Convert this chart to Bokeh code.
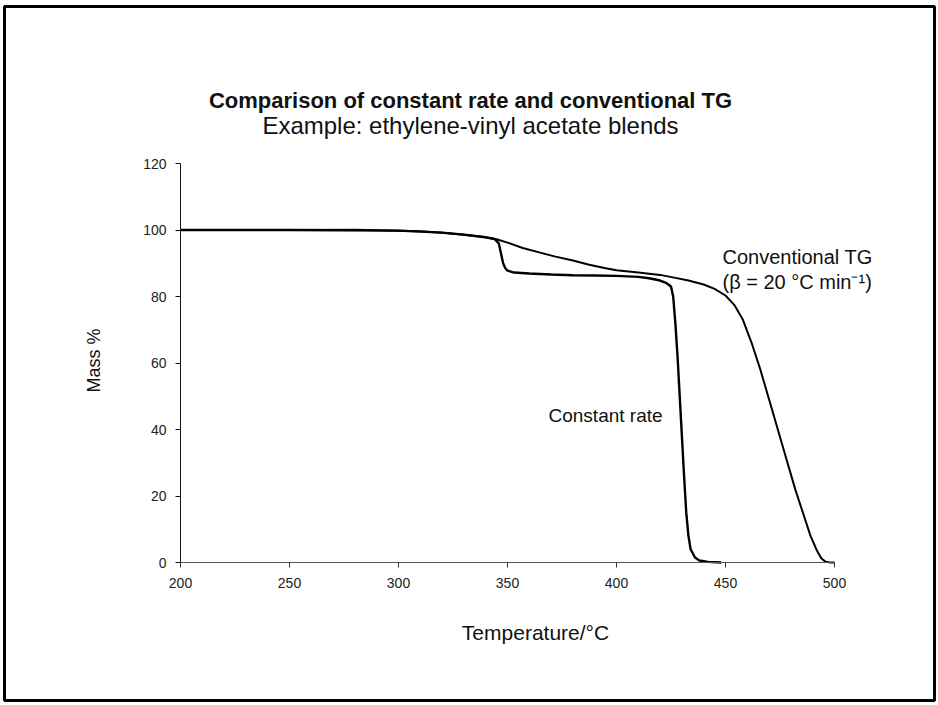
import math
from bokeh.plotting import figure
from bokeh.models import Range1d, Label, FixedTicker, BoxAnnotation
from bokeh.embed import file_html
from bokeh.resources import INLINE

# ---- data ----
conv_T = [200, 220, 250, 280, 300, 310, 320, 330, 340, 345, 350, 357, 365, 372, 380,
          387, 395, 400, 410, 420, 427, 433, 440, 445, 450, 454, 458, 462, 466, 470,
          474, 478, 482, 486, 489, 492, 494, 496, 498, 500]
conv_M = [100, 100, 100, 100.1, 99.8, 99.6, 99.2, 98.6, 97.8, 97.2, 96.2, 94.6, 93.2,
          92.0, 90.8, 89.6, 88.5, 87.9, 87.2, 86.5, 85.6, 84.8, 83.6, 82.3, 80.3, 77.5,
          73.0, 66.0, 58.0, 49.0, 40.0, 31.0, 22.0, 14.0, 8.0, 3.5, 1.2, 0.2, 0.0, 0.0]

cr_T = [200, 250, 300, 320, 330, 340, 344, 346, 347, 348, 349, 350, 353, 360, 370, 380,
        390, 400, 410, 415, 420, 423, 425, 426, 427, 428, 429, 430, 431, 432, 433, 434,
        436, 438, 442, 448]
cr_M = [100, 100, 99.8, 99.2, 98.6, 97.8, 97.3, 96.0, 93.0, 90.0, 88.5, 87.8, 87.2, 86.9,
        86.6, 86.4, 86.3, 86.2, 85.9, 85.5, 84.8, 84.0, 83.0, 80.0, 72.0, 62.0, 50.0,
        38.0, 26.0, 15.0, 8.0, 4.0, 1.5, 0.6, 0.2, 0.0]

x_ticks = [200, 250, 300, 350, 400, 450, 500]
y_ticks = [0, 20, 40, 60, 80, 100, 120]

title_text = "Comparison of constant rate and conventional TG"
subtitle_text = "Example: ethylene-vinyl acetate blends"
conv_label_1 = "Conventional TG"
conv_label_2 = "(\u03b2 = 20 \u00b0C min\u207b\u00b9)"
cr_label = "Constant rate"
x_label = "Temperature/\u00b0C"
y_label = "Mass %"

FONT = "Liberation Sans"
W, H = 938, 705
# pixel placement of the axes box (200..500 degC, 0..120 %)
PX_L, PX_R, PX_T, PX_B = 180, 834, 163, 562
sx = (PX_R - PX_L) / 300.0
sy = (PX_B - PX_T) / 120.0

x_range = Range1d(200 - PX_L / sx, 200 + (W - PX_L) / sx)
y_range = Range1d(-(H - PX_B) / sy, PX_B / sy)


def dx(px):
    return 200 + (px - PX_L) / sx


def dy(py):
    return (PX_B - py) / sy


p = figure(width=W, height=H, output_backend="svg", toolbar_location=None,
           x_range=x_range, y_range=y_range,
           min_border_left=0, min_border_right=0, min_border_top=0, min_border_bottom=0)
p.outline_line_color = None
p.grid.visible = False
p.background_fill_color = "white"
p.border_fill_color = "white"

xa, ya = p.xaxis[0], p.yaxis[0]
xa.fixed_location = 0
ya.fixed_location = 200
xa.bounds = (200, 500)
ya.bounds = (0, 120)
for ax in (xa, ya):
    ax.axis_line_width = 1
    ax.major_tick_out = 5
    ax.major_tick_in = 0
    ax.minor_tick_line_color = None
    ax.major_label_text_font = FONT
    ax.major_label_text_font_size = "14px"
    ax.major_label_text_color = "#222222"
ya.axis_line_color = "#111111"
ya.major_tick_line_color = "#111111"
xa.axis_line_color = "#555555"
xa.major_tick_line_color = "#333333"
xa.ticker = FixedTicker(ticks=x_ticks)
ya.ticker = FixedTicker(ticks=y_ticks)
xa.major_label_standoff = 10
ya.major_label_standoff = 9

p.line(conv_T, conv_M, line_color="black", line_width=2)
p.line(cr_T, cr_M, line_color="black", line_width=2.4)

def lab(x, y, text, size, **kw):
    p.add_layout(Label(x=x, y=y, text=text, text_font=FONT, text_font_size=size,
                       text_color="#111111", **kw))

lab(dx(722), dy(256), conv_label_1, "20px", text_baseline="middle")
lab(dx(722), dy(281), conv_label_2, "20px", text_baseline="middle")
lab(dx(548), dy(415), cr_label, "19px", text_baseline="middle")
lab(dx(470), dy(100), title_text, "22px", text_font_style="bold",
    text_align="center", text_baseline="middle")
lab(dx(470), dy(125), subtitle_text, "24px", text_align="center", text_baseline="middle")
lab(dx(535), dy(632), x_label, "21px", text_align="center", text_baseline="middle")
lab(dx(93), dy(360), y_label, "18px", text_align="center", text_baseline="middle",
    angle=math.pi / 2)

p.add_layout(BoxAnnotation(left=4, right=934, top=6, bottom=700,
                           left_units="canvas", right_units="canvas",
                           top_units="canvas", bottom_units="canvas",
                           fill_alpha=0, line_color="black", line_alpha=1.0,
                           line_width=3, level="overlay"))

open("out.html", "w").write(file_html(p, INLINE))
